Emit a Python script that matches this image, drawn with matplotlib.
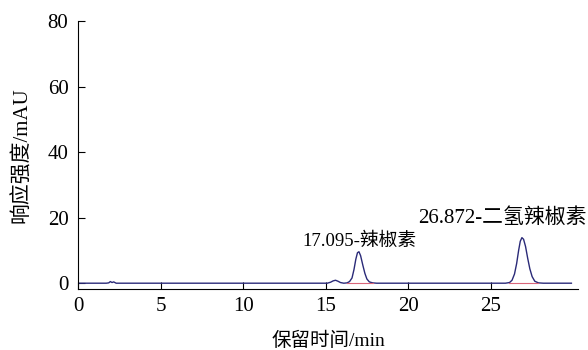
import numpy as np
import matplotlib.pyplot as plt

plt.rcParams['font.family'] = ['Liberation Serif', 'Noto Sans CJK SC']

# chromatogram trace (time in min, signal in mAU)
t = [0.0, 1.7, 1.85, 1.95, 2.05, 2.15, 2.3, 2.5, 13.0, 15.1, 15.3, 15.45, 15.6, 15.75, 15.9, 16.1,
     16.3, 16.45, 16.6, 16.72, 16.83, 16.93, 17.02, 17.12, 17.25, 17.38, 17.5, 17.65, 17.85, 18.1,
     25.9, 26.15, 26.3, 26.45, 26.58, 26.7, 26.8, 26.9, 27.0, 27.12, 27.25, 27.38, 27.52, 27.68, 27.9, 28.2, 29.9]
signal = [0.0, 0.0, 0.1, 0.5, 0.2, 0.4, 0.0, 0.0, 0.0, 0.0, 0.3, 0.7, 0.9, 0.6, 0.2, 0.0,
          0.1, 0.5, 1.6, 4.2, 7.3, 9.3, 9.6, 8.4, 5.6, 3.0, 1.3, 0.4, 0.1, 0.0,
          0.0, 0.2, 0.9, 2.8, 6.0, 10.0, 12.8, 13.9, 13.4, 11.2, 7.6, 4.4, 2.0, 0.6, 0.1, 0.0, 0.0]

# integration baselines
base_segments = [(16.3, 17.9), (26.1, 27.9)]

peak_labels = ['17.095-辣椒素', '26.872-二氢辣椒素']
label_pos = [(17.05, 10.0), (30.85, 17.0)]
label_ha = ['center', 'right']
label_size = [13.5, 15]

fig = plt.figure(figsize=(5.88, 3.5), dpi=100)
ax = fig.add_axes([0.133, 0.174, 0.85, 0.766])

ax.plot(t, signal, color='#2a2a78', lw=1.0)
for a, b in base_segments:
    ax.plot([a, b], [0, 0], color='#d9667a', lw=0.8)

for txt, (x, y), ha, fs in zip(peak_labels, label_pos, label_ha, label_size):
    ax.text(x, y, txt, ha=ha, va='bottom', fontsize=fs)

ax.set_xlim(0, 30.3)
ax.set_ylim(-1.8, 80)
ax.set_xticks([0, 5, 10, 15, 20, 25])
ax.set_yticks([0, 20, 40, 60, 80])
ax.spines['top'].set_visible(False)
ax.spines['right'].set_visible(False)
ax.tick_params(direction='in', length=5, labelsize=15)
ax.tick_params(axis='y', pad=7)
ax.tick_params(axis='x', pad=6)
ax.set_xlabel('保留时间/min', fontsize=14, labelpad=11)
ax.set_ylabel('响应强度/mAU', fontsize=15, labelpad=11)

fig.savefig('out.png', dpi=100)
